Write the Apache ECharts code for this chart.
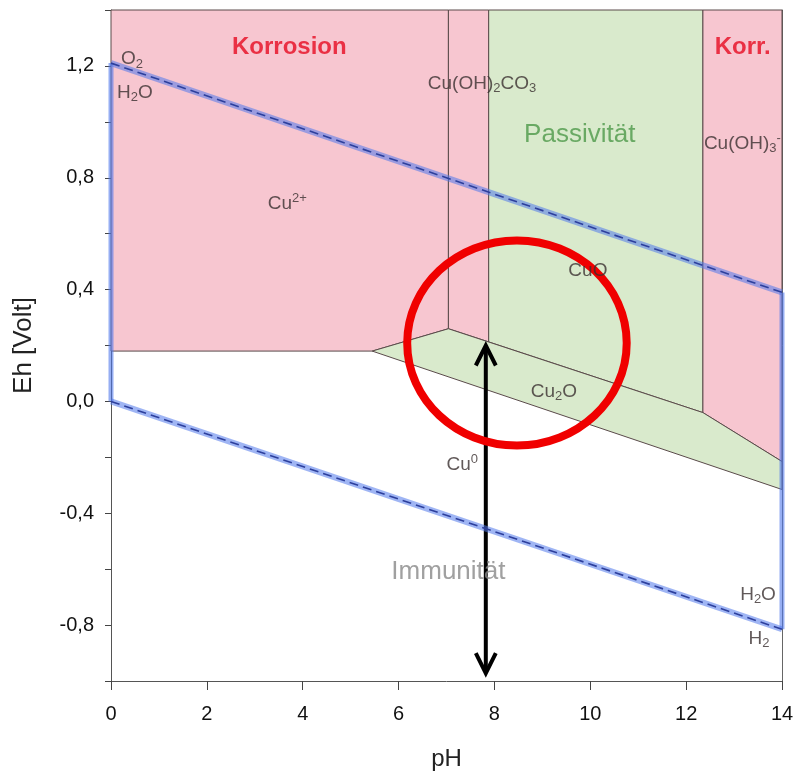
<!DOCTYPE html>
<html><head><meta charset="utf-8">
<script src="https://cdn.jsdelivr.net/npm/echarts@6/dist/echarts.min.js"></script>
<style>html,body{margin:0;padding:0;background:#fff}#c{width:795px;height:775px}</style>
</head><body><div id="c"></div>
<script>
// ---------- data ----------
const xTicks = [0, 2, 4, 6, 8, 10, 12, 14];
const yLabelValues = [-0.8, -0.4, 0.0, 0.4, 0.8, 1.2];

// stability fields [pH, Eh]
const regionCu2plus   = [[0,1.4],[7.04,1.4],[7.04,0.26],[5.45,0.18],[0,0.18]];
const regionCuCarb    = [[7.04,1.4],[7.88,1.4],[7.88,0.213],[7.04,0.26]];
const regionCuO       = [[7.88,1.4],[12.35,1.4],[12.35,-0.04],[7.88,0.213]];
const regionCuOH3     = [[12.35,1.4],[14,1.4],[14,-0.215],[12.35,-0.04]];
const regionCu2O      = [[5.45,0.18],[7.04,0.26],[12.35,-0.04],[14,-0.215],[14,-0.315]];

// water stability limits
const o2Line    = [[0,1.21],[14,0.39]];
const h2Line    = [[0,0.0],[14,-0.815]];
const leftEdge  = [[0,0.0],[0,1.21]];
const rightEdge = [[14,0.39],[14,-0.815]];

// annotations
const arrowLine = [[7.82,0.2],[7.82,-0.972]];
const circleCenter = [8.47, 0.209];
const circleRadius = [2.29, 0.367];

// text labels
const labelTexts = [
  '{r|Korrosion}', '{r|Korr.}',
  '{n|O}{sub|2}', '{n|H}{sub|2}{n|O}',
  '{n|Cu}{sup|2+}', '{n|Cu(OH)}{sub|2}{n|CO}{sub|3}',
  '{g|Passivität}', '{n|Cu(OH)}{sub|3}{sup|-}',
  '{n|CuO}', '{n|Cu}{sub|2}{n|O}', '{n|Cu}{sup|0}',
  '{i|Immunität}', '{n|H}{sub|2}{n|O}', '{n|H}{sub|2}'
];
const labelPH = [3.72, 13.18, 0.44, 0.5, 3.68, 7.74, 9.78, 12.37, 9.95, 9.24, 7.33, 7.04, 13.5, 13.52];
const labelEh = [1.268, 1.266, 1.225, 1.105, 0.708, 1.137, 0.955, 0.923, 0.468, 0.036, -0.225, -0.608, -0.69, -0.848];
const labelLeftAligned = [7];

// ---------- styles ----------
const FONT = '"Liberation Sans", Arial, sans-serif';
const PINK = '#f7c6d0';
const GREEN = '#d9eacc';
const EDGE = '#5a4a4a';
const regions = [
  {pts: regionCu2plus, fill: PINK},
  {pts: regionCuCarb, fill: PINK},
  {pts: regionCuO, fill: GREEN},
  {pts: regionCuOH3, fill: PINK},
  {pts: regionCu2O, fill: GREEN}
];
const TXT = '#3a3030';
const rich = {
  r: {fontSize: 24, fontWeight: 'bold', color: '#e60a20', fontFamily: FONT, lineHeight: 27},
  g: {fontSize: 26, color: '#4c9848', fontFamily: FONT, lineHeight: 29},
  i: {fontSize: 26, color: '#888888', fontFamily: FONT, lineHeight: 29},
  n: {fontSize: 19, color: TXT, fontFamily: FONT, lineHeight: 23},
  sub: {fontSize: 13, color: TXT, fontFamily: FONT, lineHeight: 13, verticalAlign: 'bottom'},
  sup: {fontSize: 13, color: TXT, fontFamily: FONT, lineHeight: 13, verticalAlign: 'top'}
};

const chart = echarts.init(document.getElementById('c'), null, {renderer: 'canvas'});

const bandStyle = {color: 'rgba(80,120,235,0.55)', width: 6};
const dashStyle = {color: '#2d3f9c', width: 1.6, type: [9, 5]};

const option = {
  animation: false,
  backgroundColor: '#fff',
  grid: {left: 111, right: 13, top: 10, bottom: 94, containLabel: false, outerBoundsMode: 'none'},
  xAxis: [{
    type: 'value', min: 0, max: 14, interval: 2, position: 'bottom',
    axisLine: {show: true, onZero: false, lineStyle: {color: '#555', width: 1}},
    axisTick: {show: true, length: 9, lineStyle: {color: '#444'}},
    axisLabel: {fontSize: 20, color: '#111', margin: 23, fontFamily: FONT,
      formatter: v => xTicks.indexOf(Math.round(v)) >= 0 ? String(Math.round(v)) : ''},
    splitLine: {show: false},
    name: 'pH', nameLocation: 'middle', nameGap: 66,
    nameTextStyle: {fontSize: 24, color: '#222', fontFamily: FONT}
  }, {
    type: 'value', min: 0, max: 14, position: 'top',
    axisLine: {show: true, onZero: false, lineStyle: {color: '#444', width: 1}},
    axisTick: {show: false}, axisLabel: {show: false}, splitLine: {show: false}
  }],
  yAxis: [{
    type: 'value', min: -1.0, max: 1.4, interval: 0.2, position: 'left',
    axisLine: {show: true, onZero: false, lineStyle: {color: '#555', width: 1}},
    axisTick: {show: true, length: 6, lineStyle: {color: '#444'}},
    axisLabel: {fontSize: 20, color: '#111', margin: 17, fontFamily: FONT,
      formatter: v => {
        const r = Math.round(v * 10) / 10;
        return yLabelValues.some(t => Math.abs(t - r) < 1e-6) ? r.toFixed(1).replace('.', ',') : '';
      }},
    splitLine: {show: false},
    name: 'Eh [Volt]', nameLocation: 'middle', nameGap: 74, nameRotate: 90,
    nameTextStyle: {fontSize: 26, color: '#222', fontFamily: FONT}
  }, {
    type: 'value', min: -1.0, max: 1.4, position: 'right',
    axisLine: {show: true, onZero: false, lineStyle: {color: '#666', width: 1}},
    axisTick: {show: false}, axisLabel: {show: false}, splitLine: {show: false}
  }],
  series: [
    {
      type: 'custom', name: 'fields', silent: true,
      data: regions.map(r => r.pts[0]),
      renderItem: (params, api) => {
        const r = regions[params.dataIndex];
        return {
          type: 'polygon',
          shape: {points: r.pts.map(p => api.coord(p))},
          style: {fill: r.fill, stroke: EDGE, lineWidth: 1}
        };
      }
    },
    {type: 'line', data: o2Line, symbol: 'none', silent: true, lineStyle: bandStyle},
    {type: 'line', data: h2Line, symbol: 'none', silent: true, lineStyle: bandStyle},
    {type: 'line', data: leftEdge, symbol: 'none', silent: true, lineStyle: {color: 'rgba(80,120,235,0.6)', width: 5}},
    {type: 'line', data: rightEdge, symbol: 'none', silent: true, lineStyle: {color: 'rgba(80,120,235,0.6)', width: 5}},
    {type: 'line', data: o2Line, symbol: 'none', silent: true, lineStyle: dashStyle},
    {type: 'line', data: h2Line, symbol: 'none', silent: true, lineStyle: dashStyle},
    {
      type: 'scatter', silent: true, symbolSize: 1, itemStyle: {color: 'rgba(0,0,0,0)'},
      data: labelTexts.map((t, i) => ({
        value: [labelPH[i], labelEh[i]],
        label: {
          show: true, position: 'inside', formatter: t, rich: rich,
          align: labelLeftAligned.indexOf(i) >= 0 ? 'left' : 'center', verticalAlign: 'middle'
        }
      }))
    },
    {
      type: 'custom', name: 'arrow', silent: true,
      data: [arrowLine[0]],
      renderItem: (params, api) => {
        const a = api.coord(arrowLine[0]);
        const b = api.coord(arrowLine[1]);
        const st = {stroke: '#000', lineWidth: 4, fill: null, lineJoin: 'miter', lineCap: 'butt'};
        return {type: 'group', children: [
          {type: 'line', shape: {x1: a[0], y1: a[1] + 2, x2: b[0], y2: b[1] - 2}, style: st},
          {type: 'polyline', shape: {points: [[a[0] - 10, a[1] + 20], [a[0], a[1]], [a[0] + 10, a[1] + 20]]}, style: st},
          {type: 'polyline', shape: {points: [[b[0] - 10, b[1] - 20], [b[0], b[1]], [b[0] + 10, b[1] - 20]]}, style: st}
        ]};
      }
    },
    {
      type: 'custom', name: 'circle', silent: true,
      data: [circleCenter],
      renderItem: (params, api) => {
        const c = api.coord(circleCenter);
        const s = api.size(circleRadius);
        return {
          type: 'ellipse',
          shape: {cx: c[0], cy: c[1], rx: s[0], ry: s[1]},
          style: {fill: null, stroke: '#f00000', lineWidth: 8}
        };
      }
    }
  ]
};
chart.setOption(option);
</script>
</body></html>
